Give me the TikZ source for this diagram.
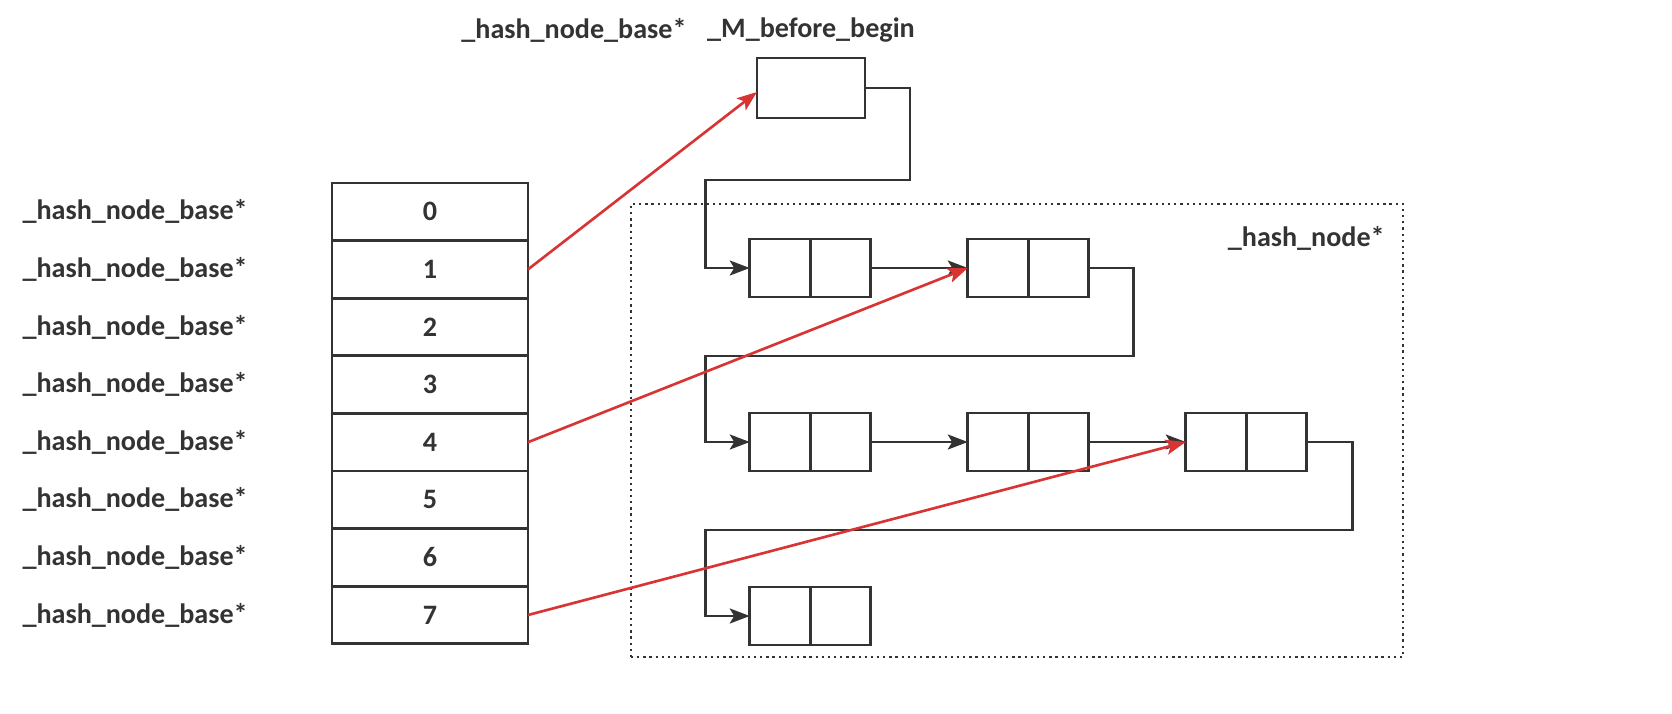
\documentclass[tikz,border=0pt]{standalone}
\usepackage{fontspec}
\setmainfont{Carlito}
\usetikzlibrary{arrows.meta,positioning}
\definecolor{ink}{HTML}{333333}
\definecolor{ptr}{HTML}{D93434}
\tikzset{
    slot/.style={
        draw=ink, line width=1.5pt, text=ink,
        minimum width=39.2mm, minimum height=11.52mm,
        inner sep=0pt, outer sep=0pt,
        font=\bfseries\fontsize{16}{19}\selectfont
    },
    half/.style={
        draw=ink, line width=1.5pt,
        minimum width=12.1mm, minimum height=11.6mm,
        inner sep=0pt, outer sep=0pt
    },
    lbl/.style={
        inner sep=0pt, text=ink,
        font=\bfseries\fontsize{16}{19}\selectfont
    },
    link/.style={draw=ink, line width=1.5pt, -{Stealth[length=4mm, width=3mm, inset=0.9mm]}},
    ptrlink/.style={draw=ptr, line width=1.5pt, -{Stealth[length=4mm, width=3mm, inset=0.9mm]}}
}

\begin{document}
\begin{tikzpicture}[x=0.2mm, y=-0.2mm]
\useasboundingbox (0,0) rectangle (1672,714);

% Dotted frame round the hash nodes
\node[draw=ink, line width=1.5pt, dash pattern=on 1.3pt off 2.2pt,
      minimum width=154.4mm, minimum height=90.6mm, outer sep=0pt] (heap) at (1017,430.5) {};
\node[lbl, anchor=east] (hn) at (1385,238) {\_hash\_node*};

% Bucket table
\node[slot] (t0) at (430,211.8) {0};
\node[slot, below=0pt of t0] (t1) {1};
\node[slot, below=0pt of t1] (t2) {2};
\node[slot, below=0pt of t2] (t3) {3};
\node[slot, below=0pt of t3] (t4) {4};
\node[slot, below=0pt of t4] (t5) {5};
\node[slot, below=0pt of t5] (t6) {6};
\node[slot, below=0pt of t6] (t7) {7};

% Labels left of the table
\node[lbl, left=16.8mm of t0] (l0) {\_hash\_node\_base*};
\node[lbl, left=16.8mm of t1] (l1) {\_hash\_node\_base*};
\node[lbl, left=16.8mm of t2] (l2) {\_hash\_node\_base*};
\node[lbl, left=16.8mm of t3] (l3) {\_hash\_node\_base*};
\node[lbl, left=16.8mm of t4] (l4) {\_hash\_node\_base*};
\node[lbl, left=16.8mm of t5] (l5) {\_hash\_node\_base*};
\node[lbl, left=16.8mm of t6] (l6) {\_hash\_node\_base*};
\node[lbl, left=16.8mm of t7] (l7) {\_hash\_node\_base*};

% Before-begin node
\node[half, minimum width=21.6mm, minimum height=12mm] (bb) at (811,88) {};
\node[lbl, above=3mm of bb] (mbb) {\_M\_before\_begin};
\node[lbl, left=4mm of mbb] (hnb) {\_hash\_node\_base*};

% Hash nodes
\node[half] (n1a) at (780,268) {};
\node[half, right=0pt of n1a] (n1b) {};
\node[half] (n2a) at (998,268) {};
\node[half, right=0pt of n2a] (n2b) {};
\node[half] (n3a) at (780,442) {};
\node[half, right=0pt of n3a] (n3b) {};
\node[half] (n4a) at (998,442) {};
\node[half, right=0pt of n4a] (n4b) {};
\node[half] (n5a) at (1216,442) {};
\node[half, right=0pt of n5a] (n5b) {};
\node[half] (n6a) at (780,616) {};
\node[half, right=0pt of n6a] (n6b) {};

% Next pointers
\draw[link] (bb.east) -- ++(9mm,0) -- ++(0,-18.4mm) -| ([xshift=-8.8mm]n1a.west) -- (n1a.west);
\draw[link] (n1b.east) -- (n2a.west);
\draw[link] (n2b.east) -- ++(9mm,0) -- ++(0,-17.6mm) -| ([xshift=-8.8mm]n3a.west) -- (n3a.west);
\draw[link] (n3b.east) -- (n4a.west);
\draw[link] (n4b.east) -- (n5a.west);
\draw[link] (n5b.east) -- ++(9.2mm,0) -- ++(0,-17.6mm) -| ([xshift=-8.8mm]n6a.west) -- (n6a.west);

% Bucket pointers
\draw[ptrlink] (t1.east) -- ([yshift=-0.8mm]bb.west);
\draw[ptrlink] (t4.east) -- (n2a.west);
\draw[ptrlink] (t7.east) -- (n5a.west);

\end{tikzpicture}
\end{document}
